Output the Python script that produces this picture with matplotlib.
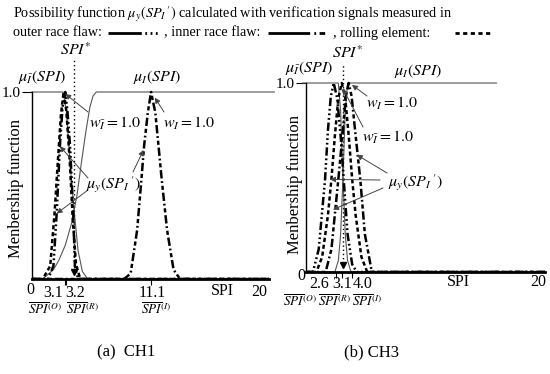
import matplotlib
matplotlib.use("Agg")
import matplotlib.pyplot as plt
from matplotlib.lines import Line2D

plt.rcParams['font.family'] = ['Liberation Serif', 'DejaVu Serif']
plt.rcParams['mathtext.fontset'] = 'stix'
plt.rcParams['lines.scale_dashes'] = False

# ---- data (SPI, membership) ----
# CH1
ch1_outer_x = [0, 1.5, 2.0, 2.3, 2.6, 2.85, 3.1, 3.3, 3.55, 3.85, 4.0, 4.3, 22.1]
ch1_outer_y = [0, 0, 0.07, 0.35, 0.71, 0.92, 1.0, 0.9, 0.71, 0.35, 0.07, 0, 0]
ch1_roll_x = [0, 1.0, 1.7, 2.1, 2.4, 2.7, 2.95, 3.2, 3.5, 3.8, 4.1, 4.5, 22.1]
ch1_roll_y = [0, 0, 0.07, 0.35, 0.62, 0.88, 1.0, 0.9, 0.65, 0.32, 0.08, 0, 0]
ch1_inner_x = [0, 8.6, 9.2, 9.8, 10.2, 10.45, 10.8, 11.1, 11.5, 11.8, 12.1, 12.6, 13.2, 13.8, 22.1]
ch1_inner_y = [0, 0, 0.03, 0.26, 0.53, 0.71, 0.89, 1.0, 0.89, 0.71, 0.53, 0.26, 0.05, 0, 0]
ch1_mu_up_x = [0, 1.0, 1.4, 2.0, 2.5, 3.1, 3.7, 4.2, 4.6, 5.0, 5.4, 5.7, 6.0, 22.6]
ch1_mu_up_y = [0, 0, 0.02, 0.05, 0.1, 0.18, 0.3, 0.45, 0.62, 0.78, 0.92, 0.98, 1.0, 1.0]
ch1_mu_dn_x = [0, 2.9, 3.2, 3.5, 3.9, 4.3, 4.7, 5.2, 22.1]
ch1_mu_dn_y = [1, 1, 0.9, 0.65, 0.38, 0.15, 0.04, 0, 0]
ch1_spi_star = 3.9
ch1_ticks = [3.1, 3.2, 11.1]

# CH3
ch3_outer_x = [0, 0.6, 1.1, 1.65, 1.9, 2.15, 2.4, 2.7, 3.0, 3.3, 3.6, 4.0, 4.4, 20.7]
ch3_outer_y = [0, 0, 0.12, 0.49, 0.75, 0.93, 1.0, 0.92, 0.72, 0.46, 0.2, 0.04, 0, 0]
ch3_roll_x = [0, 0.9, 1.4, 1.9, 2.2, 2.5, 2.8, 3.1, 3.4, 3.7, 4.0, 4.3, 4.8, 5.3, 20.7]
ch3_roll_y = [0, 0, 0.08, 0.3, 0.49, 0.72, 0.92, 1.0, 0.92, 0.72, 0.49, 0.3, 0.08, 0, 0]
ch3_inner_x = [0, 1.7, 2.2, 2.8, 3.2, 3.45, 3.7, 3.95, 4.25, 4.7, 5.1, 5.7, 20.7]
ch3_inner_y = [0, 0, 0.12, 0.49, 0.75, 0.93, 1.0, 0.93, 0.75, 0.49, 0.2, 0, 0]
ch3_mu_up_x = [0, 2.5, 2.8, 3.0, 3.2, 3.4, 3.6, 16.5]
ch3_mu_up_y = [0, 0, 0.06, 0.2, 0.5, 0.85, 1.0, 1.0]
ch3_mu_dn_x = [-0.3, 2.8, 3.0, 3.2, 3.4, 3.6, 3.9, 20.7]
ch3_mu_dn_y = [1, 1, 0.85, 0.5, 0.2, 0.06, 0, 0]
ch3_spi_star = 3.2
ch3_ticks = [2.6, 3.1, 4.0]

W, H = 550, 374


def fp(x, y):
    # pixel position -> figure fraction
    return (x / W, 1 - y / H)


outer_ls = (0, (6, 2, 1.3, 2, 1.3, 2, 1.3, 2))
inner_ls = (0, (6, 2, 1.3, 2, 3, 2))
roll_ls = (0, (3, 2))

fig = plt.figure(figsize=(5.5, 3.74), dpi=100)
ax1 = fig.add_axes([32 / W, 1 - 279 / H, 237 / W, 1.25 * 187 / H])
ax2 = fig.add_axes([306 / W, 1 - 272 / H, 239 / W, 1.25 * 189 / H])


def setup(ax, xmax, ticks, star, star_top):
    ax.set_xlim(0, xmax)
    ax.set_ylim(0, 1.25)
    for s in ['top', 'right']:
        ax.spines[s].set_visible(False)
    ax.spines['left'].set_bounds(0, 1.0)
    ax.spines['left'].set_linewidth(1.0)
    ax.spines['bottom'].set_linewidth(2.0)
    ax.set_xticks(ticks)
    ax.set_xticklabels([])
    ax.tick_params(axis='x', length=4, width=0.8)
    ax.set_yticks([1.0])
    ax.set_yticklabels(['1.0'], fontsize=11)
    ax.tick_params(axis='y', length=7, width=0.8, pad=1)
    ax.patch.set_visible(False)
    ax.plot([star, star], [0.05, star_top], ls=(0, (1, 2)), color='black', lw=1.0, clip_on=False)
    ax.plot([star], [0.035], marker='v', color='black', ms=5, clip_on=False)


setup(ax1, 22.1, ch1_ticks, ch1_spi_star, 1.17)
setup(ax2, 20.7, ch3_ticks, ch3_spi_star, 1.1)

thin = dict(color='#555555', lw=0.8, clip_on=False)
ax1.plot(ch1_mu_up_x, ch1_mu_up_y, **thin)
ax1.plot(ch1_mu_dn_x, ch1_mu_dn_y, **thin)
ax1.plot(ch1_roll_x, ch1_roll_y, color='black', lw=1.8, ls=roll_ls)
ax1.plot(ch1_outer_x, ch1_outer_y, color='black', lw=1.8, ls=outer_ls)
ax1.plot(ch1_inner_x, ch1_inner_y, color='black', lw=1.8, ls=inner_ls)

ax2.plot(ch3_mu_up_x, ch3_mu_up_y, **thin)
ax2.plot(ch3_mu_dn_x, ch3_mu_dn_y, **thin)
ax2.plot(ch3_roll_x, ch3_roll_y, color='black', lw=1.8, ls=roll_ls)
ax2.plot(ch3_outer_x, ch3_outer_y, color='black', lw=1.8, ls=outer_ls)
ax2.plot(ch3_inner_x, ch3_inner_y, color='black', lw=1.8, ls=inner_ls)

arr = dict(arrowstyle='-|>', color='#444444', lw=0.7, mutation_scale=8, shrinkA=0, shrinkB=0)


def note(ax, xy, start):
    ax.annotate('', xy=xy, xycoords='data', xytext=fp(*start),
                textcoords='figure fraction', arrowprops=arr)


ftxt = 11.5
# left panel labels
fig.text(*fp(42, 77), r'$\mu_{\bar{I}}(SPI)$', fontsize=ftxt, ha='center', va='center')
fig.text(*fp(157, 77), r'$\mu_{I}(SPI)$', fontsize=ftxt, ha='center', va='center')
fig.text(*fp(76, 51), r'$SPI^{*}$', fontsize=ftxt, ha='center', va='center')
fig.text(*fp(115, 123), r'$w_{\bar{I}}=1.0$', fontsize=ftxt, ha='center', va='center')
fig.text(*fp(189, 123), r'$w_{I}=1.0$', fontsize=ftxt, ha='center', va='center')
fig.text(*fp(113, 185), r"$\mu_y(SP_I\,')$", fontsize=ftxt, ha='center', va='center')
note(ax1, (3.1, 0.99), (88, 112))
note(ax1, (11.45, 0.97), (164, 112))
note(ax1, (2.6, 0.71), (88, 178))
note(ax1, (2.3, 0.35), (88, 190))
note(ax1, (10.4, 0.69), (133, 172))

# right panel labels
fig.text(*fp(309, 68), r'$\mu_{\bar{I}}(SPI)$', fontsize=ftxt, ha='center', va='center')
fig.text(*fp(348, 54), r'$SPI^{*}$', fontsize=ftxt, ha='center', va='center')
fig.text(*fp(418, 71), r'$\mu_{I}(SPI)$', fontsize=ftxt, ha='center', va='center')
fig.text(*fp(392, 103), r'$w_{I}=1.0$', fontsize=ftxt, ha='center', va='center')
fig.text(*fp(388, 137), r'$w_{\bar{I}}=1.0$', fontsize=ftxt, ha='center', va='center')
fig.text(*fp(415, 183), r"$\mu_y(SP_I\,')$", fontsize=ftxt, ha='center', va='center')
note(ax2, (3.98, 0.99), (367, 96))
note(ax2, (3.2, 0.97), (363, 127))
note(ax2, (4.4, 0.62), (387, 173))
note(ax2, (2.08, 0.49), (380, 180))
note(ax2, (2.34, 0.33), (383, 188))

# y labels
fig.text(*fp(16, 188), 'Menbership function', rotation=90, fontsize=12, ha='center', va='center')
fig.text(*fp(295, 185), 'Menbership function', rotation=90, fontsize=12, ha='center', va='center')

# x tick values, spread out as in the reference
fl = 11.5
for x, y, s in [(30, 290, '0'), (53, 293, '3.1'), (75, 293, '3.2'), (152, 293, '11.1'),
                (222, 291, 'SPI'), (259, 292, '20'),
                (301, 276, '0'), (319, 284, '2.6'), (342, 284, '3.1'), (363, 284, '4.0'),
                (458, 282, 'SPI'), (538, 282, '20')]:
    fig.text(*fp(x, y), s, fontsize=fl, ha='center', va='center')

fo = 9.5
for x, y, s in [(45, 302, r'$\overline{SPI}^{(O)}$'), (82, 302, r'$\overline{SPI}^{(R)}$'),
                (156, 302, r'$\overline{SPI}^{(I)}$'),
                (300, 294, r'$\overline{SPI}^{(O)}$'), (334, 294, r'$\overline{SPI}^{(R)}$'),
                (367, 294, r'$\overline{SPI}^{(I)}$')]:
    fig.text(*fp(x, y), s, fontsize=fo, ha='center', va='top')

# captions
fig.text(*fp(126, 352), '(a)  CH1', fontsize=12, ha='center', va='center')
fig.text(*fp(371, 352), '(b) CH3', fontsize=12, ha='center', va='center')

# header
fh = 10.3
fig.text(*fp(13, 14), r"Possibility function $\mu_y(SP_I\,')$ calculated with verification signals measured in",
         fontsize=fh, ha='left', va='center')
fig.text(*fp(13, 33), 'outer race flaw:', fontsize=fh, ha='left', va='center')
fig.text(*fp(164, 33), ', inner race flaw:', fontsize=fh, ha='left', va='center')
fig.text(*fp(333, 33), ', rolling element:', fontsize=fh, ha='left', va='center')
for x0, x1, ls in [(108, 162, (0, (24, 2.5, 1.3, 2.5, 1.3, 2.5, 1.3, 6))),
                   (268, 330, (0, (30, 3, 1.3, 2.5, 4, 6))),
                   (455, 492, (0, (3, 2.5)))]:
    a, b = fp(x0, 33)
    c, _ = fp(x1, 33)
    fig.add_artist(Line2D([a, c], [b, b], color='black', lw=2.0, ls=ls, transform=fig.transFigure))

fig.savefig('out.png', dpi=100)
